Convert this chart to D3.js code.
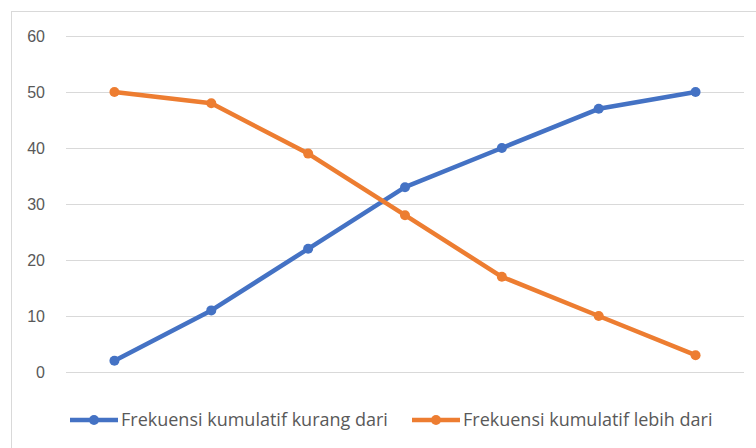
<!DOCTYPE html>
<html>
<head>
<meta charset="utf-8">
<script src="https://cdn.jsdelivr.net/npm/d3@7"></script>
<style>
body { margin: 0; background: #fff; }
svg { display: block; font-family: "Open Sans", "Noto Sans", sans-serif; }
</style>
</head>
<body>
<div id="chart"></div>
<script>
var categories = ["1", "2", "3", "4", "5", "6", "7"];
var kurangDari = [2, 11, 22, 33, 40, 47, 50];
var lebihDari = [50, 48, 39, 28, 17, 10, 3];
var yTicks = [0, 10, 20, 30, 40, 50, 60];
var seriesNames = ["Frekuensi kumulatif kurang dari", "Frekuensi kumulatif lebih dari"];
var colors = ["#4472C4", "#ED7D31"];

var wt = 756;
var ht = 448;
var margin = { top: 36, right: 12, bottom: 76, left: 66 };
var width = wt - margin.left - margin.right;
var height = ht - margin.top - margin.bottom;

var svg = d3.select("#chart").append("svg")
    .attr("width", wt)
    .attr("height", ht);

// chart area border (only top and left are inside the frame)
svg.append("rect")
    .attr("x", 11.5)
    .attr("y", 11.5)
    .attr("width", 800)
    .attr("height", 500)
    .attr("fill", "#fff")
    .attr("stroke", "#d9d9d9");

var g = svg.append("g")
    .attr("transform", "translate(" + margin.left + "," + margin.top + ")");

var x = d3.scalePoint()
    .domain(categories)
    .range([0, width])
    .padding(0.5);

var y = d3.scaleLinear()
    .domain([0, 60])
    .range([height, 0]);

// gridlines
g.selectAll(".grid")
    .data(yTicks)
    .enter().append("line")
    .attr("class", "grid")
    .attr("x1", 0)
    .attr("x2", width)
    .attr("y1", function (d) { return Math.round(y(d)) + 0.5; })
    .attr("y2", function (d) { return Math.round(y(d)) + 0.5; })
    .attr("stroke", "#d9d9d9")
    .attr("stroke-width", 1);

var yAxis = g.append("g")
    .call(d3.axisLeft(y).tickValues(yTicks).tickSize(0).tickPadding(21));
yAxis.select(".domain").remove();
yAxis.selectAll("text")
    .attr("fill", "#595959")
    .style("font-size", "16px");

var line = d3.line()
    .x(function (d, i) { return x(categories[i]); })
    .y(function (d) { return y(d); });

[kurangDari, lebihDari].forEach(function (data, k) {
    g.append("path")
        .datum(data)
        .attr("fill", "none")
        .attr("stroke", colors[k])
        .attr("stroke-width", 4.5)
        .attr("stroke-linejoin", "round")
        .attr("d", line);

    g.selectAll(".pt" + k)
        .data(data)
        .enter().append("circle")
        .attr("class", "pt" + k)
        .attr("cx", function (d, i) { return x(categories[i]); })
        .attr("cy", function (d) { return y(d); })
        .attr("r", 5)
        .attr("fill", colors[k]);
});

// legend
var legendX = [70, 412];
var legend = svg.selectAll(".legend")
    .data(seriesNames)
    .enter().append("g")
    .attr("class", "legend")
    .attr("transform", function (d, i) { return "translate(" + legendX[i] + ",420)"; });

legend.append("line")
    .attr("x1", 0)
    .attr("x2", 48)
    .attr("stroke", function (d, i) { return colors[i]; })
    .attr("stroke-width", 4.5);

legend.append("circle")
    .attr("cx", 24)
    .attr("r", 5)
    .attr("fill", function (d, i) { return colors[i]; });

legend.append("text")
    .attr("x", 51)
    .attr("dy", "0.35em")
    .attr("fill", "#595959")
    .style("font-size", "18px")
    .text(function (d) { return d; });
</script>
</body>
</html>
